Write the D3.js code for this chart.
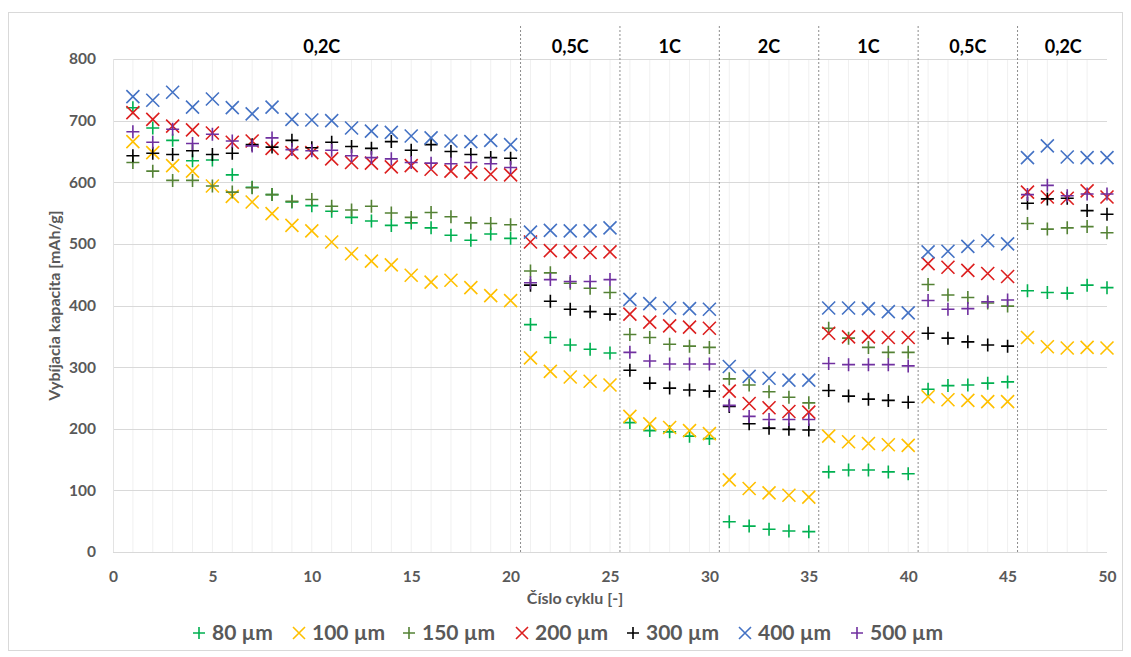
<!DOCTYPE html>
<html><head><meta charset="utf-8">
<script src="https://cdn.jsdelivr.net/npm/d3@7"></script>
<style>
body{margin:0;background:#fff;}
text{font-family:Lato,"Open Sans",sans-serif;}
</style>
</head><body>
<svg id="c" width="1131" height="657"></svg>
<script>
// ---- data ----
const cycles = d3.range(1, 51);
const s80  = [721,688,668,635,636,612,592,580,568,562, 553,543,537,530,534,526,514,506,516,509, 369,348,336,329,323, 210,197,195,188,184, 49,42,37,34,33, 130,133,133,130,127, 264,270,271,274,276, 424,421,420,433,429];
const s100 = [666,648,627,618,594,577,568,549,530,521, 503,484,472,466,449,438,441,429,416,408, 315,293,284,277,271, 220,208,202,197,192, 117,103,96,92,89, 188,179,176,174,173, 252,247,246,244,244, 348,333,331,332,331];
const s150 = [632,618,603,603,594,584,591,580,569,572, 561,555,561,550,543,551,544,534,533,531, 456,453,436,428,421, 353,348,337,334,332, 281,271,260,251,242, 363,347,332,324,324, 434,417,413,404,399, 533,524,526,528,518];
const s200 = [713,702,691,685,680,665,667,655,648,648, 638,632,631,625,627,621,618,616,613,612, 503,489,487,486,487, 386,373,367,365,363, 261,241,234,228,227, 355,349,349,348,348, 468,462,457,452,447, 584,576,574,586,576];
const s300 = [643,647,645,651,645,647,661,657,668,656, 665,658,655,666,652,661,650,645,640,639, 433,407,394,390,386, 295,274,266,263,261, 236,208,201,199,198, 262,253,248,246,243, 355,347,341,336,334, 566,573,574,554,548];
const s400 = [739,733,746,722,735,721,711,722,702,701, 700,688,683,681,675,672,667,666,668,661, 519,522,521,521,526, 410,403,396,395,394, 301,285,282,279,279, 396,396,395,390,388, 487,488,496,505,500, 640,659,641,640,640];
const s500 = [682,665,686,663,678,667,659,672,653,651, 652,643,640,638,632,631,630,632,630,624, 437,442,439,439,442, 324,310,305,305,305, 238,220,215,215,215, 306,304,304,304,302, 408,394,395,406,409, 580,595,578,581,581];

const seriesNames   = ["80 µm","100 µm","150 µm","200 µm","300 µm","400 µm","500 µm"];
const seriesValues  = [s80, s100, s150, s200, s300, s400, s500];
const seriesColors  = ["#00B050","#FFC000","#548235","#DC1F1F","#000000","#4472C4","#7030A0"];
const seriesMarkers = ["plus","x","plus","x","plus","x","plus"];

const rateLabels = ["0,2C","0,5C","1C","2C","1C","0,5C","0,2C"];
const rateBounds = [0.5,20.5,25.5,30.5,35.5,40.5,45.5,50.5];
const yTicks = [0,100,200,300,400,500,600,700,800];
const xTicks = [0,5,10,15,20,25,30,35,40,45,50];

// ---- layout ----
const svg = d3.select("#c");
const x = d3.scaleLinear().domain([0,50]).range([113,1107]);
const y = d3.scaleLinear().domain([0,800]).range([552,59]);
const grey = "#595959";

// outer border
svg.append("rect").attr("x",8.5).attr("y",12.5).attr("width",1114).attr("height",638)
  .attr("fill","#fff").attr("stroke","#D9D9D9");

// minor vertical gridlines
svg.append("g").selectAll("line").data(d3.range(1,50)).join("line")
  .attr("x1",d=>x(d)).attr("x2",d=>x(d)).attr("y1",y(800)).attr("y2",y(0))
  .attr("stroke","#F0F0F0").attr("stroke-width",1);

// horizontal gridlines
svg.append("g").selectAll("line").data(yTicks).join("line")
  .attr("x1",x(0)).attr("x2",x(50)).attr("y1",d=>Math.round(y(d))+0.5).attr("y2",d=>Math.round(y(d))+0.5)
  .attr("stroke","#D9D9D9").attr("stroke-width",1);
svg.append("line").attr("x1",x(0)+0.5).attr("x2",x(0)+0.5).attr("y1",y(800)).attr("y2",y(0))
  .attr("stroke","#E3E3E3");

// rate section dashed lines
svg.append("g").selectAll("line").data(rateBounds.slice(1,-1)).join("line")
  .attr("x1",d=>x(d)).attr("x2",d=>x(d)).attr("y1",26).attr("y2",y(0))
  .attr("stroke","#7F7F7F").attr("stroke-width",0.9).attr("stroke-dasharray","2,2");

// rate labels
svg.append("g").selectAll("text").data(rateLabels).join("text")
  .attr("x",(d,i)=>x((rateBounds[i]+rateBounds[i+1])/2) - (i===6?4:0))
  .attr("y",53).attr("text-anchor","middle")
  .attr("font-size",18).attr("font-weight","bold").attr("fill","#000").text(d=>d);

// axes
const yAxis = svg.append("g").attr("transform",`translate(${x(0)},0)`)
  .call(d3.axisLeft(y).tickValues(yTicks).tickSize(0).tickPadding(17));
const xAxis = svg.append("g").attr("transform",`translate(0,${y(0)})`)
  .call(d3.axisBottom(x).tickValues(xTicks).tickSize(0).tickPadding(19));
[yAxis,xAxis].forEach(g=>{
  g.select(".domain").remove();
  g.selectAll("text").attr("font-size",15.5).attr("font-weight","bold").attr("fill",grey)
    .attr("font-family","Lato, 'Open Sans', sans-serif");
});

// axis titles
svg.append("text").attr("x",575).attr("y",604).attr("text-anchor","middle")
  .attr("font-size",16).attr("font-weight","bold").attr("fill",grey).text("Číslo cyklu [-]");
svg.append("text").attr("transform",`translate(60,${(y(0)+y(800))/2}) rotate(-90)`)
  .attr("text-anchor","middle").attr("font-size",16).attr("font-weight","bold").attr("fill",grey)
  .text("Vybíjacia kapacita [mAh/g]");

// markers
function markerPath(type, h){
  return type==="plus" ? `M${-h},0H${h}M0,${-h}V${h}` : `M${-h},${-h}L${h},${h}M${-h},${h}L${h},${-h}`;
}
seriesValues.forEach((vals,si)=>{
  svg.append("g").selectAll("path").data(vals).join("path")
    .attr("transform",(d,i)=>`translate(${x(cycles[i])},${y(d)})`)
    .attr("d",markerPath(seriesMarkers[si],6.5))
    .attr("fill","none").attr("stroke",seriesColors[si]).attr("stroke-width",1.6);
});

// legend
const legendX = [199,299,409,522,633,745,857];
const lg = svg.append("g");
seriesNames.forEach((n,i)=>{
  lg.append("path").attr("transform",`translate(${legendX[i]},633)`)
    .attr("d",markerPath(seriesMarkers[i],6))
    .attr("fill","none").attr("stroke",seriesColors[i]).attr("stroke-width",1.6);
  lg.append("text").attr("x",legendX[i]+13).attr("y",640)
    .attr("font-size",21).attr("font-weight","bold").attr("fill",grey).text(n);
});
</script>
</body></html>
